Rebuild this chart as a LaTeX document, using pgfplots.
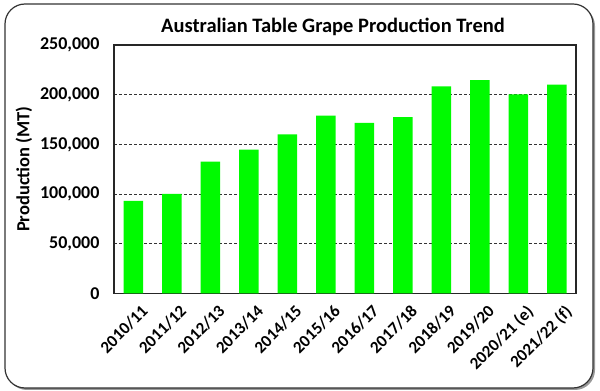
\documentclass[border=0pt]{standalone}
\usepackage{fontspec}
\setmainfont{Carlito}
\usepackage{pgfplots}
\pgfplotsset{compat=1.18}
\definecolor{bargreen}{RGB}{0,250,0}
\begin{document}
\begin{tikzpicture}[x=1pt,y=1pt]
\useasboundingbox (0,0) rectangle (600,391);
\fill[black!40, rounded corners=20pt] (7,1) rectangle (595,385);
\filldraw[fill=white, draw=black!80, line width=1.2pt, rounded corners=20pt] (5,3) rectangle (593,387);
\node[font=\bfseries\fontsize{20.5}{24}\selectfont, anchor=base] at (333,358) {Australian Table Grape Production Trend};
\begin{axis}[
  at={(114pt,97.7pt)}, anchor=south west,
  scale only axis, width=462pt, height=248.3pt,
  ymin=0, ymax=250000,
  ytick={0,50000,100000,150000,200000,250000},
  scaled y ticks=false,
  xmin=-0.5, xmax=11.5,
  xtick={0,...,11},
  xticklabels={2010/11,2011/12,2012/13,2013/14,2014/15,2015/16,2016/17,2017/18,2018/19,2019/20,2020/21 (e),2021/22 (f)},
  xtick style={draw=none}, ytick style={draw=none},
  ymajorgrids,
  major grid style={black!80, line width=0.6pt, dash pattern=on 3pt off 2pt},
  axis line style={black!85, line width=1.1pt},
  /pgf/number format/assume math mode=true,
  /pgf/number format/.cd, fixed, 1000 sep={,},
  /pgfplots/.cd,
  yticklabel style={font=\bfseries\fontsize{18}{21}\selectfont, xshift=-11pt},
  xticklabel style={font=\bfseries\fontsize{17}{20}\selectfont, rotate=45, anchor=north east, xshift=1pt, yshift=-9pt},
  ylabel={Production (MT)},
  ylabel style={font=\bfseries\fontsize{18.5}{21}\selectfont, at={(axis description cs:-0.195,0.5)}, anchor=center},
]
\addplot[ybar, bar width=19.5pt, fill=bargreen, draw=none] coordinates {
  (0,93000) (1,100000) (2,132500) (3,144600) (4,160100) (5,178800)
  (6,171500) (7,177500) (8,208400) (9,214700) (10,200300) (11,210000)
};
\end{axis}
\end{tikzpicture}
\end{document}
